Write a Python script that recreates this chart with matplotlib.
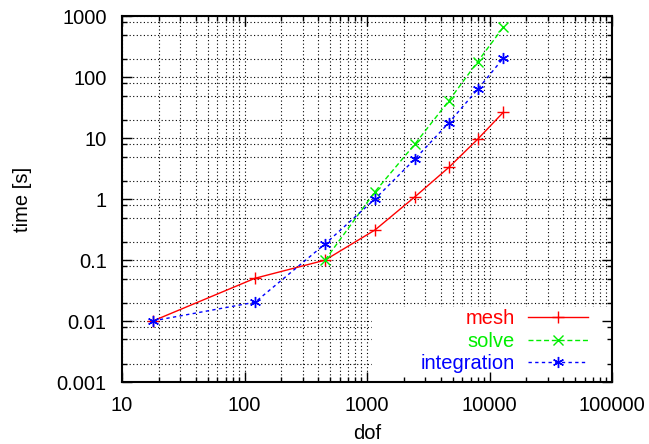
import numpy as np
import matplotlib
matplotlib.use('Agg')
import matplotlib.pyplot as plt
from matplotlib.ticker import LogLocator, FuncFormatter, NullFormatter
from matplotlib.patches import Rectangle

# dof / timings
DOF_MESH = [18, 122, 454, 1162, 2466, 4667, 8017, 12970]
T_MESH = [0.0101, 0.0505, 0.1, 0.313, 1.10, 3.35, 9.7, 26.8]

DOF_SOLVE = [454, 1162, 2466, 4667, 8017, 12970]
T_SOLVE = [0.1, 1.33, 8.1, 41.6, 182, 667]

DOF_INTEG = [18, 122, 454, 1162, 2466, 4667, 8017, 12970]
T_INTEG = [0.0101, 0.0204, 0.184, 1.01, 4.59, 18.1, 64.0, 207]

plt.rcParams['font.family'] = ['Liberation Sans', 'DejaVu Sans']
FS = 14.5

fig = plt.figure(figsize=(6.49, 4.44), dpi=100)
pos = [122 / 649, 1 - 382 / 444, 490 / 649, 365.5 / 444]

# grid lives on a background axes so the key box can hide it but not the ticks
ax_bg = fig.add_axes(pos)
ax = fig.add_axes(pos)
ax.set_facecolor('none')

for a in (ax_bg, ax):
    a.set_xscale('log'); a.set_yscale('log')
    a.set_xlim(10, 100000)
    a.set_ylim(0.001, 1000)
    a.xaxis.set_major_locator(LogLocator(base=10))
    a.xaxis.set_minor_locator(LogLocator(base=10, subs=np.arange(2, 10)))
    a.yaxis.set_major_locator(LogLocator(base=10))
    a.yaxis.set_minor_locator(LogLocator(base=10, subs=[2, 5, 8]))
    a.xaxis.set_minor_formatter(NullFormatter())
    a.yaxis.set_minor_formatter(NullFormatter())

fmt = FuncFormatter(lambda v, p: '%g' % v)
ax.xaxis.set_major_formatter(fmt)
ax.yaxis.set_major_formatter(fmt)

ax_bg.grid(True, which='both', color='black', linestyle=(0, (1, 2.2)), linewidth=0.8)
ax_bg.tick_params(which='both', length=0, labelbottom=False, labelleft=False,
                  labeltop=False, labelright=False)
ax_bg.xaxis.set_major_formatter(NullFormatter())
ax_bg.yaxis.set_major_formatter(NullFormatter())
ax_bg.xaxis.label.set_visible(False)
ax_bg.yaxis.label.set_visible(False)
ax_bg.xaxis.offsetText.set_visible(False)
ax_bg.yaxis.offsetText.set_visible(False)
for s in ax_bg.spines.values():
    s.set_visible(False)

ax.grid(False)
ax.tick_params(which='both', direction='in', top=True, right=True,
               labelsize=FS, width=1.0)
ax.tick_params(which='major', length=7)
ax.tick_params(which='minor', length=3.6)
ax.tick_params(axis='x', pad=10)
ax.tick_params(axis='y', pad=11)
for s in ax.spines.values():
    s.set_linewidth(1.5)

# white key box like gnuplot
ax.add_patch(Rectangle((0.511, 0.0), 0.489, 0.205, transform=ax.transAxes,
                       facecolor='white', edgecolor='none', zorder=1))

ax.plot(DOF_MESH, T_MESH, color='#ff0000', lw=1.0, marker='+', ms=8, mew=1.0,
        label='mesh', zorder=3)
ax.plot(DOF_SOLVE, T_SOLVE, color='#00ee00', lw=1.0, ls=(0, (3.6, 2)), marker='x',
        ms=7, mew=1.0, label='solve', zorder=3)
ax.plot(DOF_INTEG, T_INTEG, color='#0000ff', lw=1.0, ls=(0, (2.4, 2.4)), marker=(6, 2, 0),
        ms=8, mew=1.0, label='integration', zorder=3)

leg = ax.legend(loc='lower right', bbox_to_anchor=(0.951, 0.024), frameon=False,
                markerfirst=False, labelcolor='linecolor', fontsize=FS,
                handlelength=3.0, handletextpad=0.65, labelspacing=0.17,
                borderpad=0, borderaxespad=0, numpoints=1)

ax.set_xlabel('dof', fontsize=FS)
ax.xaxis.set_label_coords(0.5, -0.142)
ax.xaxis.label.set_va('center')
ax.set_ylabel('time [s]', fontsize=FS)
ax.yaxis.set_label_coords(-0.203, 0.5)
ax.yaxis.label.set_va('center')

fig.savefig('out.png', dpi=100)
